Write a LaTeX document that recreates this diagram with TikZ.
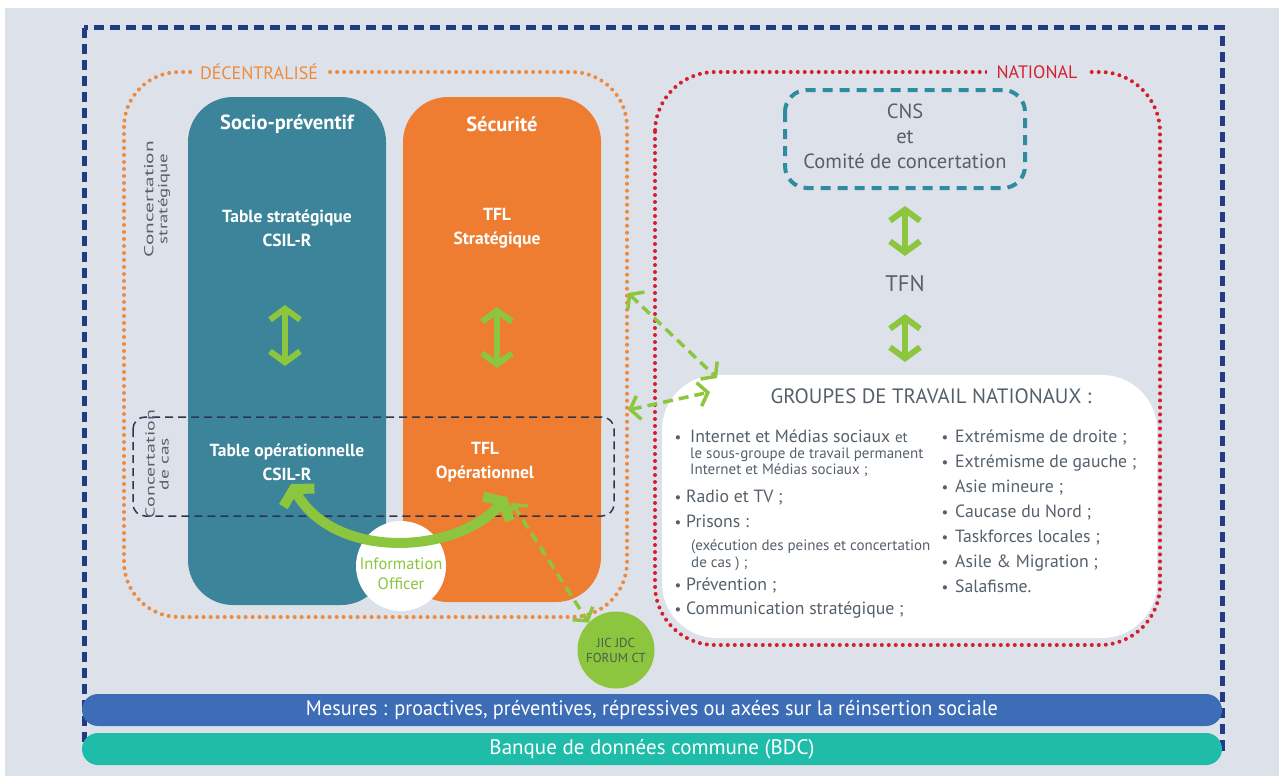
\documentclass[tikz,border=0pt]{standalone}
\usepackage{fontspec}
\setmainfont{PT Sans}
\usetikzlibrary{arrows.meta,calc}
\definecolor{bgc}{HTML}{DDE2EA}
\definecolor{navyd}{HTML}{233A85}
\definecolor{orad}{HTML}{EF8A3C}
\definecolor{redd}{HTML}{D4202E}
\definecolor{tealbox}{HTML}{3B8499}
\definecolor{orabox}{HTML}{EE7D31}
\definecolor{gr}{HTML}{8CC63E}
\definecolor{cnsd}{HTML}{2F8BA0}
\definecolor{txtg}{HTML}{55606B}
\definecolor{jictxt}{HTML}{4E5B4A}
\definecolor{barblue}{HTML}{3D6DB7}
\definecolor{barteal}{HTML}{20BCAA}
\definecolor{casd}{HTML}{2C3550}
\tikzset{
  dotsline/.style={line width=4pt, dash pattern=on 0pt off 7pt, line cap=round},
  colbox/.style={rounded corners=45pt},
  wtxt/.style={text=white, font=\bfseries\fontsize{17.5}{24}\selectfont, align=center},
  ttl/.style={text=white, font=\bfseries\fontsize{20.5}{24}\selectfont},
  garrow/.style={draw=gr, line width=6pt, {Straight Barb[length=11pt,width=30pt]}-{Straight Barb[length=11pt,width=30pt]}},
  gdash/.style={draw=gr, line width=3.5pt, dash pattern=on 10pt off 6pt, {Straight Barb[length=9pt,width=24pt]}-{Straight Barb[length=9pt,width=24pt]}},
  gcurve/.style={draw=gr, line width=10pt, {Straight Barb[length=10pt,width=36pt]}-{Straight Barb[length=10pt,width=36pt]}},
  li/.style={anchor=base west, text=txtg, inner sep=0pt, font=\fontsize{17.7}{20}\selectfont},
  lis/.style={anchor=base west, text=txtg, inner sep=0pt, font=\fontsize{15}{17}\selectfont},
  bul/.style={anchor=base, text=txtg, inner sep=0pt, font=\fontsize{15}{17}\selectfont},
  rot/.style={rotate=90, text=txtg, align=center, font=\fontsize{13}{14}\selectfont},
  barbox/.style={rounded corners=16pt, minimum width=1140pt, minimum height=32pt, inner sep=0pt, text=white, font=\fontsize{21}{22}\selectfont}
}
\begin{document}
\begin{tikzpicture}[x=1pt,y=-1pt]
\useasboundingbox (0,0) rectangle (1279,776);
\fill[white] (0,0) rectangle (1279,776);
\fill[bgc] (5,8) rectangle (1279,776);

% outer navy dashed frame
\draw[navyd, line width=5pt, dash pattern=on 10pt off 6pt] (84,28) rectangle (1222,748);

% decentralised dotted frame
\draw[orad, dotsline, rounded corners=55pt] (124,72) rectangle (627,617);
\node[fill=bgc, text=orad, inner xsep=8pt, inner ysep=2pt, font=\fontsize{18}{20}\selectfont] (dec) at (259,72) {DÉCENTRALISÉ};

% national dotted frame
\draw[redd, dotsline, rounded corners=60pt] (655,72) rectangle (1160,645);
\node[fill=bgc, text=redd, inner xsep=10pt, inner ysep=2pt, font=\fontsize{18}{20}\selectfont] (nat) at (1037,72) {NATIONAL};

% column boxes
\fill[tealbox, colbox] (188,97) rectangle (386,605);
\fill[orabox, colbox] (403,97) rectangle (601,602);
\node[ttl] (socio) at (287,124) {Socio-préventif};
\node[ttl] (secu) at (502,124) {Sécurité};
\node[wtxt] (tstrat) at (287,228) {Table stratégique\\CSIL-R};
\node[wtxt] (tflstrat) at (497,228) {TFL\\Stratégique};
\node[wtxt] (topp) at (287,462) {Table opérationnelle\\CSIL-R};
\node[wtxt] (tflop) at (485,462) {TFL\\Opérationnel};

\coordinate (a1t) at (285,305); \coordinate (a1b) at (285,366);
\coordinate (a2t) at (497,307); \coordinate (a2b) at (497,368);
\draw[garrow] (a1t) -- (a1b);
\draw[garrow] (a2t) -- (a2b);

% concertation de cas dashed box
\draw[casd, line width=1.5pt, dash pattern=on 8pt off 5pt, rounded corners=12pt] (133,417) rectangle (614,516);
\node[rot] (cstrat) at (157,199) {\resizebox{116pt}{\height}{Concertation}\\\resizebox{90pt}{\height}{stratégique}};
\node[rot] (ccas) at (157,464) {\resizebox{108pt}{\height}{Concertation}\\\resizebox{52pt}{\height}{de cas}};

% information officer
\node[circle, fill=white, minimum size=90pt, inner sep=0pt] (io) at (401,566) {};
\node[text=gr, align=center, font=\fontsize{16.5}{20}\selectfont] (iot) at (401,574) {Information\\Officer};
\coordinate (cl) at (291,484);
\coordinate (cr) at (507,497);
\draw[gcurve] (cl) .. controls (335,560) and (455,555) .. (cr);

% JIC circle
\node[circle, fill=gr, minimum size=77pt, inner sep=0pt, text=jictxt, align=center, font=\fontsize{13}{15}\selectfont] (jic) at (616,650) {JIC JDC\\FORUM CT};
\coordinate (jd1) at (512,503);
\draw[gdash] (jd1) -- (jic.north west);

% national part
\draw[cnsd, line width=4pt, dash pattern=on 10pt off 7pt, rounded corners=22pt] (785,90) rectangle (1025,188);
\node[text=txtg, align=center, font=\fontsize{20.5}{25}\selectfont] (cns) at (905,136) {CNS\\et\\Comité de concertation};
\node[text=txtg, font=\fontsize{22.5}{24}\selectfont] (tfn) at (905,284) {TFN};
\coordinate (t1t) at (905,206); \coordinate (t1b) at (905,256);
\coordinate (t2t) at (905,314); \coordinate (t2b) at (905,362);
\draw[garrow] (t1t) -- (t1b);
\draw[garrow] (t2t) -- (t2b);

% working groups white box
\fill[white, rounded corners=55pt] (662,375) rectangle (1157,638);
\node[text=txtg, font=\fontsize{20.8}{23}\selectfont] (gtn) at (931,396) {GROUPES DE TRAVAIL NATIONAUX :};

% dashed green links
\coordinate (o1) at (628,293); \coordinate (o2) at (628,410);
\coordinate (g1) at (717,378); \coordinate (g2) at (710,392);
\draw[gdash] (o1) -- (g1);
\draw[gdash] (o2) -- (g2);

% left list
\node[bul] at (678,442) {•};
\node[li] (i1) at (690,442) {Internet et Médias sociaux \fontsize{15}{17}\selectfont et};
\node[lis] (i1b) at (690,458) {le sous-groupe de travail permanent};
\node[lis] (i1c) at (690,474) {Internet et Médias sociaux ;};
\node[bul] at (678,502) {•};
\node[li] (i2) at (686,502) {Radio et TV ;};
\node[bul] at (678,527) {•};
\node[li] (i3) at (686,527) {Prisons :};
\node[lis] (i3b) at (691,550) {(exécution des peines et concertation};
\node[lis] (i3c) at (691,567) {de cas ) ;};
\node[bul] at (678,590) {•};
\node[li] (i4) at (686,590) {Prévention ;};
\node[bul] at (678,614) {•};
\node[li] (i5) at (686,614) {Communication stratégique ;};

% right list
\node[bul] at (945,442) {•};
\node[li] (r1) at (955,442) {Extrémisme de droite ;};
\node[bul] at (945,467) {•};
\node[li] (r2) at (955,467) {Extrémisme de gauche ;};
\node[bul] at (945,492) {•};
\node[li] (r3) at (955,492) {Asie mineure ;};
\node[bul] at (945,517) {•};
\node[li] (r4) at (955,517) {Caucase du Nord ;};
\node[bul] at (945,542) {•};
\node[li] (r5) at (955,542) {Taskforces locales ;};
\node[bul] at (945,567) {•};
\node[li] (r6) at (955,567) {Asile \& Migration ;};
\node[bul] at (945,592) {•};
\node[li] (r7) at (955,592) {Salafisme.};

% bottom bars
\node[barbox, fill=barblue] (mes) at (652,710) {\resizebox{692pt}{\height}{Mesures : proactives, préventives, répressives ou axées sur la réinsertion sociale}};
\node[barbox, fill=barteal] (bdc) at (652,749) {\resizebox{325pt}{\height}{Banque de données commune (BDC)}};
\end{tikzpicture}
\end{document}
